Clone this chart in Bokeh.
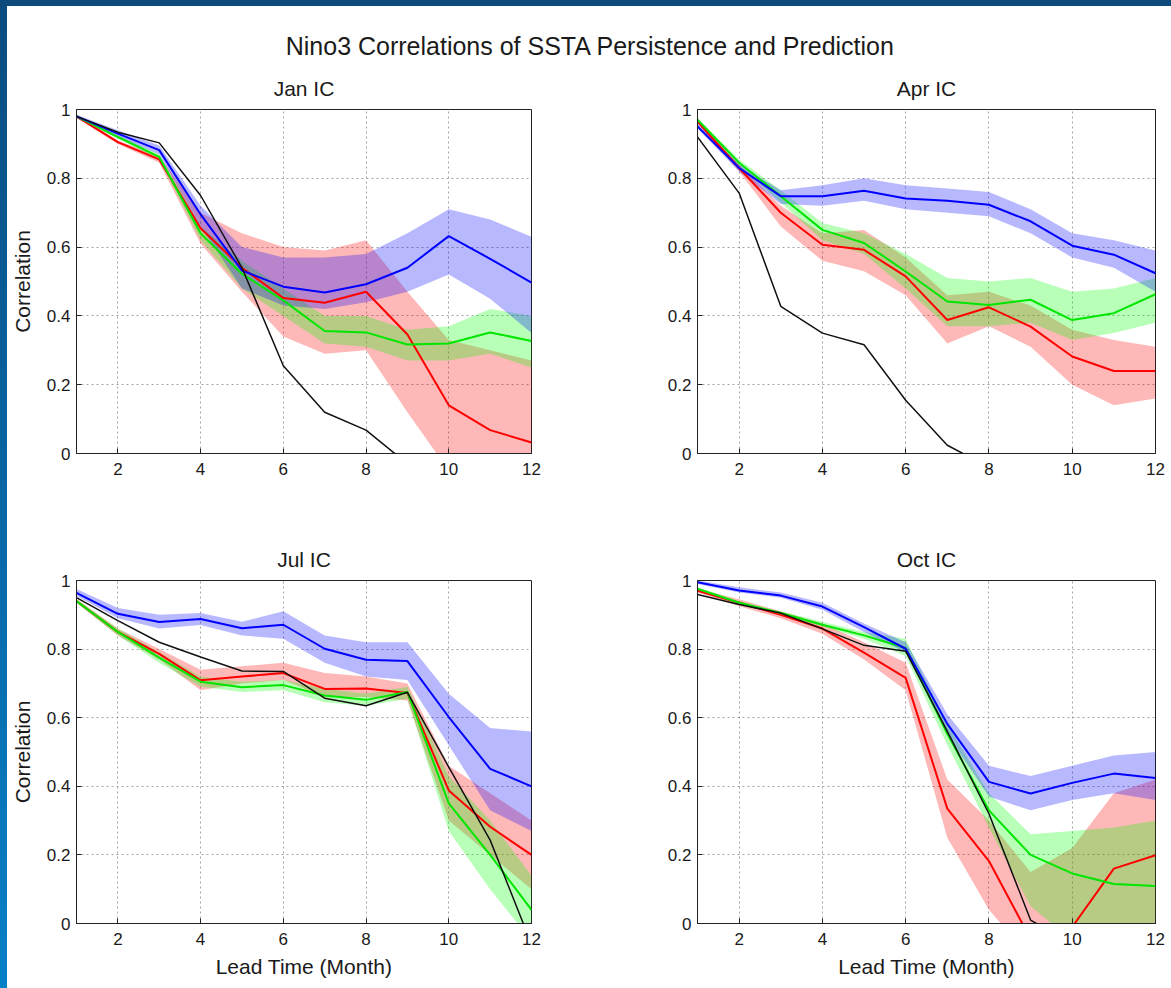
from bokeh.plotting import figure
from bokeh.models import Range1d, FixedTicker, Div, CustomJSTickFormatter
from bokeh.layouts import row, column
from bokeh.embed import file_html
from bokeh.resources import INLINE
from bokeh.core.properties import value

# ---------------- data ----------------
lead_months = [1, 2, 3, 4, 5, 6, 7, 8, 9, 10, 11, 12]
x_ticks = [2, 4, 6, 8, 10, 12]
y_ticks = [0, 0.2, 0.4, 0.6, 0.8, 1]

main_title = "Nino3 Correlations of SSTA Persistence and Prediction"
panel_titles = ["Jan IC", "Apr IC", "Jul IC", "Oct IC"]
y_label = "Correlation"
x_label = "Lead Time (Month)"

# Jan IC
jan_persist = [0.98, 0.934, 0.903, 0.75, 0.54, 0.255, 0.12, 0.068, -0.03, -0.12, -0.15, -0.15]
jan_red = [0.98, 0.905, 0.855, 0.655, 0.54, 0.452, 0.438, 0.47, 0.346, 0.14, 0.068, 0.032]
jan_green = [0.98, 0.92, 0.862, 0.64, 0.522, 0.445, 0.356, 0.352, 0.317, 0.32, 0.352, 0.327]
jan_blue = [0.98, 0.93, 0.882, 0.695, 0.532, 0.485, 0.468, 0.492, 0.54, 0.632, 0.566, 0.497]
jan_red_lo = [0.975, 0.9, 0.845, 0.61, 0.47, 0.34, 0.29, 0.30, 0.12, -0.05, -0.1, -0.1]
jan_red_hi = [0.985, 0.91, 0.865, 0.70, 0.64, 0.60, 0.59, 0.62, 0.47, 0.33, 0.30, 0.27]
jan_green_lo = [0.975, 0.915, 0.855, 0.62, 0.48, 0.40, 0.32, 0.31, 0.27, 0.27, 0.29, 0.25]
jan_green_hi = [0.985, 0.925, 0.87, 0.66, 0.56, 0.48, 0.40, 0.40, 0.36, 0.37, 0.42, 0.40]
jan_blue_lo = [0.975, 0.92, 0.87, 0.66, 0.48, 0.43, 0.42, 0.44, 0.47, 0.52, 0.45, 0.35]
jan_blue_hi = [0.985, 0.94, 0.895, 0.72, 0.60, 0.57, 0.57, 0.58, 0.64, 0.71, 0.68, 0.63]

# Apr IC
apr_persist = [0.92, 0.757, 0.428, 0.35, 0.316, 0.155, 0.024, -0.04, -0.1, -0.15, -0.2, -0.2]
apr_red = [0.965, 0.83, 0.70, 0.607, 0.592, 0.515, 0.388, 0.425, 0.369, 0.282, 0.24, 0.24]
apr_green = [0.97, 0.845, 0.748, 0.65, 0.612, 0.529, 0.442, 0.432, 0.447, 0.388, 0.408, 0.463]
apr_blue = [0.951, 0.83, 0.748, 0.748, 0.764, 0.741, 0.735, 0.723, 0.675, 0.604, 0.578, 0.524]
apr_red_lo = [0.96, 0.82, 0.66, 0.56, 0.53, 0.46, 0.32, 0.37, 0.31, 0.20, 0.14, 0.16]
apr_red_hi = [0.97, 0.84, 0.72, 0.64, 0.65, 0.57, 0.46, 0.47, 0.43, 0.36, 0.33, 0.31]
apr_green_lo = [0.965, 0.835, 0.73, 0.62, 0.58, 0.48, 0.37, 0.37, 0.38, 0.33, 0.35, 0.38]
apr_green_hi = [0.975, 0.855, 0.765, 0.67, 0.64, 0.58, 0.51, 0.50, 0.51, 0.47, 0.48, 0.51]
apr_blue_lo = [0.945, 0.82, 0.725, 0.72, 0.735, 0.71, 0.70, 0.69, 0.64, 0.57, 0.54, 0.47]
apr_blue_hi = [0.96, 0.84, 0.765, 0.78, 0.80, 0.78, 0.77, 0.76, 0.71, 0.64, 0.62, 0.59]

# Jul IC
jul_persist = [0.95, 0.883, 0.82, 0.777, 0.736, 0.735, 0.657, 0.635, 0.674, 0.456, 0.243, -0.06]
jul_red = [0.94, 0.85, 0.786, 0.709, 0.72, 0.73, 0.684, 0.685, 0.672, 0.388, 0.282, 0.2]
jul_green = [0.94, 0.85, 0.775, 0.705, 0.689, 0.695, 0.665, 0.652, 0.675, 0.35, 0.2, 0.04]
jul_blue = [0.964, 0.903, 0.879, 0.888, 0.861, 0.871, 0.801, 0.769, 0.765, 0.602, 0.451, 0.40]
jul_red_lo = [0.935, 0.84, 0.77, 0.68, 0.70, 0.71, 0.66, 0.66, 0.65, 0.30, 0.20, 0.10]
jul_red_hi = [0.945, 0.86, 0.80, 0.74, 0.75, 0.76, 0.73, 0.72, 0.70, 0.46, 0.38, 0.30]
jul_green_lo = [0.935, 0.84, 0.76, 0.69, 0.675, 0.68, 0.645, 0.635, 0.655, 0.27, 0.10, -0.05]
jul_green_hi = [0.945, 0.86, 0.79, 0.72, 0.705, 0.71, 0.685, 0.67, 0.69, 0.43, 0.30, 0.14]
jul_blue_lo = [0.955, 0.89, 0.86, 0.87, 0.84, 0.83, 0.76, 0.72, 0.71, 0.52, 0.33, 0.27]
jul_blue_hi = [0.975, 0.92, 0.90, 0.905, 0.88, 0.91, 0.84, 0.82, 0.82, 0.67, 0.57, 0.56]

# Oct IC
oct_persist = [0.959, 0.93, 0.905, 0.859, 0.811, 0.794, 0.56, 0.32, 0.01, -0.06, -0.1, -0.1]
oct_red = [0.97, 0.935, 0.90, 0.86, 0.79, 0.716, 0.335, 0.182, -0.045, -0.01, 0.16, 0.199]
oct_green = [0.976, 0.935, 0.905, 0.871, 0.84, 0.803, 0.553, 0.33, 0.2, 0.146, 0.115, 0.109]
oct_blue = [0.995, 0.971, 0.956, 0.924, 0.864, 0.801, 0.582, 0.413, 0.379, 0.41, 0.437, 0.424]
oct_red_lo = [0.965, 0.925, 0.89, 0.845, 0.77, 0.68, 0.25, 0.04, -0.1, -0.1, -0.05, -0.05]
oct_red_hi = [0.975, 0.945, 0.91, 0.875, 0.82, 0.76, 0.42, 0.30, 0.15, 0.22, 0.38, 0.42]
oct_green_lo = [0.97, 0.93, 0.90, 0.865, 0.83, 0.78, 0.52, 0.28, 0.05, -0.05, -0.05, -0.05]
oct_green_hi = [0.98, 0.94, 0.91, 0.88, 0.85, 0.83, 0.58, 0.38, 0.26, 0.27, 0.28, 0.30]
oct_blue_lo = [0.99, 0.965, 0.95, 0.915, 0.85, 0.79, 0.55, 0.37, 0.33, 0.36, 0.38, 0.36]
oct_blue_hi = [1.0, 0.98, 0.965, 0.935, 0.875, 0.82, 0.61, 0.46, 0.43, 0.46, 0.49, 0.50]

FONT = "Liberation Sans"
TXT = "#1a1a1a"


def make_panel(title, persist, red, green, blue, bands, w, h, bl, br, bt, bb,
               ylab=None, xlab=None):
    p = figure(width=w, height=h, x_range=Range1d(1, 12), y_range=Range1d(0, 1),
               output_backend="svg", toolbar_location=None,
               min_border_left=bl, min_border_right=br,
               min_border_top=bt, min_border_bottom=bb,
               background_fill_color="white", border_fill_color="white")
    p.title.text = title
    p.title.align = "center"
    p.title.text_font = FONT
    p.title.text_font_size = "21px"
    p.title.text_font_style = "normal"
    p.title.text_color = TXT
    p.title.standoff = 19
    p.outline_line_color = "#222222"
    p.outline_line_width = 1

    for lo, hi, col in bands:
        p.varea(x=lead_months, y1=lo, y2=hi, fill_color=col, fill_alpha=0.28)
    p.line(lead_months, red, line_color="#ff0000", line_width=2)
    p.line(lead_months, green, line_color="#00e600", line_width=2)
    p.line(lead_months, blue, line_color="#0000ff", line_width=2)
    p.line(lead_months, persist, line_color="#111111", line_width=1.5)

    p.xaxis.ticker = FixedTicker(ticks=x_ticks)
    p.yaxis.ticker = FixedTicker(ticks=y_ticks)
    p.yaxis.formatter = CustomJSTickFormatter(
        code="return tick.toFixed(1).replace(/\\.0$/, '');")
    for ax in (p.xaxis[0], p.yaxis[0]):
        ax.axis_line_color = "#222222"
        ax.major_tick_in = 5
        ax.major_tick_out = 0
        ax.minor_tick_line_color = None
        ax.major_tick_line_color = "#222222"
        ax.major_label_text_font = FONT
        ax.major_label_text_font_size = "17px"
        ax.major_label_text_color = TXT
        ax.axis_label_text_font = FONT
        ax.axis_label_text_font_size = "21px"
        ax.axis_label_text_font_style = "normal"
        ax.axis_label_text_color = TXT
    p.xaxis.major_label_standoff = 9
    p.yaxis.major_label_standoff = 6
    if ylab:
        p.yaxis.axis_label = ylab
        p.yaxis.axis_label_standoff = 10
    if xlab:
        p.xaxis.axis_label = xlab
        p.xaxis.axis_label_standoff = 7
    p.grid.grid_line_color = "#9a9a9a"
    p.grid.grid_line_dash = "2 3"
    p.grid.grid_line_alpha = 0.9
    return p


RED_BAND = "#ff0000"
GREEN_BAND = "#00ff00"
BLUE_BAND = "#0000ff"

p1 = make_panel(panel_titles[0], jan_persist, jan_red, jan_green, jan_blue,
                [(jan_red_lo, jan_red_hi, RED_BAND), (jan_green_lo, jan_green_hi, GREEN_BAND),
                 (jan_blue_lo, jan_blue_hi, BLUE_BAND)],
                593, 430, 69, 69, 49, 37, ylab=y_label)
p2 = make_panel(panel_titles[1], apr_persist, apr_red, apr_green, apr_blue,
                [(apr_red_lo, apr_red_hi, RED_BAND), (apr_green_lo, apr_green_hi, GREEN_BAND),
                 (apr_blue_lo, apr_blue_hi, BLUE_BAND)],
                571, 430, 97, 16, 49, 37)
p3 = make_panel(panel_titles[2], jul_persist, jul_red, jul_green, jul_blue,
                [(jul_red_lo, jul_red_hi, RED_BAND), (jul_green_lo, jul_green_hi, GREEN_BAND),
                 (jul_blue_lo, jul_blue_hi, BLUE_BAND)],
                593, 498, 69, 69, 90, 65, ylab=y_label, xlab=x_label)
p4 = make_panel(panel_titles[3], oct_persist, oct_red, oct_green, oct_blue,
                [(oct_red_lo, oct_red_hi, RED_BAND), (oct_green_lo, oct_green_hi, GREEN_BAND),
                 (oct_blue_lo, oct_blue_hi, BLUE_BAND)],
                571, 498, 97, 16, 90, 65, xlab=x_label)

# main title strip
p0 = figure(width=1164, height=54, x_range=Range1d(0, 1164), y_range=Range1d(0, 54),
            output_backend="svg", toolbar_location=None, x_axis_type=None, y_axis_type=None,
            min_border=0, outline_line_color=None, background_fill_color="white",
            border_fill_color="white")
p0.grid.visible = False
p0.text(x=[583], y=[15], text=[main_title], text_align="center", text_baseline="middle",
        text_font=value(FONT), text_font_size="25px", text_color=TXT)

top_bar = Div(width=1171, height=6, margin=0, styles={"background-color": "#0c4a7b"})
left_bar = Div(width=7, height=982, margin=0,
               styles={"background": "linear-gradient(to bottom, #0b4c80, #0780c8)"})

layout = column(top_bar,
                row(left_bar, column(p0, row(p1, p2), row(p3, p4))))

with open("out.html", "w") as f:
    f.write(file_html(layout, INLINE))
